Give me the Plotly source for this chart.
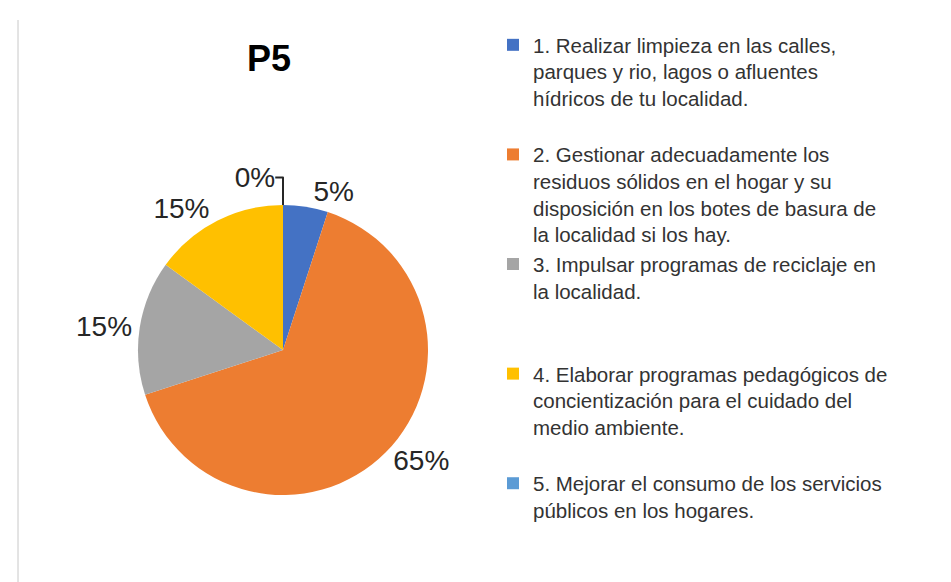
import plotly.graph_objects as go

labels = [
    "1. Realizar limpieza en las calles,<br>parques y rio, lagos o afluentes<br>hídricos de tu localidad.<br> ",
    "2. Gestionar adecuadamente los<br>residuos sólidos en el hogar y su<br>disposición en los botes de basura de<br>la localidad si los hay.",
    "3. Impulsar programas de reciclaje en<br>la localidad.<br> <br> ",
    "4. Elaborar programas pedagógicos de<br>concientización para el cuidado del<br>medio ambiente.<br> ",
    "5. Mejorar el consumo de los servicios<br>públicos en los hogares.",
]
values = [5, 65, 15, 15, 0]
colors = ["#4472C4", "#ED7D31", "#A5A5A5", "#FFC000", "#5B9BD5"]

W, H = 951, 582
cx, cy, r = 275, 342, 145

fig = go.Figure(
    go.Pie(
        labels=labels,
        values=values,
        marker=dict(colors=colors, line=dict(width=0)),
        sort=False,
        direction="clockwise",
        rotation=0,
        textinfo="percent",
        textposition="outside",
        textfont=dict(size=28, color="#262626", family="Liberation Sans, Arial, sans-serif"),
        domain=dict(x=[(cx - r) / W, (cx + r) / W], y=[(H - cy - r) / H, (H - cy + r) / H]),
        hoverinfo="label+percent",
    )
)

fig.update_layout(
    width=W,
    height=H,
    margin=dict(l=0, r=0, t=0, b=0),
    paper_bgcolor="white",
    plot_bgcolor="white",
    font=dict(family="Liberation Sans, Arial, sans-serif", color="#262626"),
    title=dict(
        text="<b>P5</b>",
        x=261 / W,
        xanchor="center",
        y=1 - 50 / H,
        yanchor="middle",
        font=dict(size=36, color="#000000"),
    ),
    legend=dict(
        x=485 / W,
        xanchor="left",
        y=1 - 17 / H,
        yanchor="top",
        font=dict(size=20.5, color="#333333"),
        valign="top",
        itemclick=False,
        traceorder="normal",
    ),
    showlegend=True,
    shapes=[
        dict(type="line", xref="paper", yref="paper", x0=10 / W, x1=10 / W, y0=0, y1=1 - 12 / H,
             line=dict(color="#c8c8c8", width=1)),
    ],
)

fig.write_html("out.html")
